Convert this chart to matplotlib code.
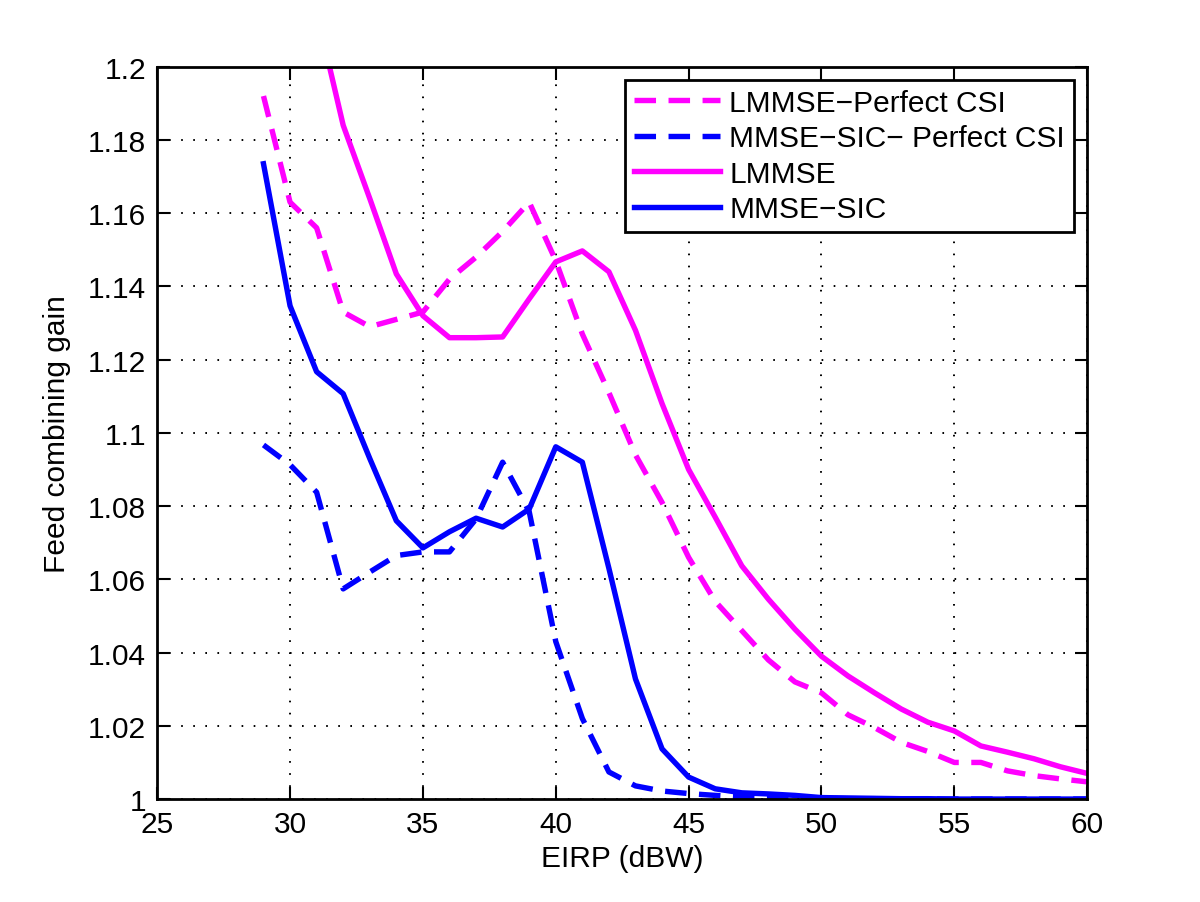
import matplotlib
matplotlib.use("Agg")
import matplotlib.pyplot as plt
from matplotlib.ticker import FuncFormatter

plt.rcParams['font.family'] = ['Liberation Sans', 'DejaVu Sans']
plt.rcParams['lines.scale_dashes'] = False

eirp = list(range(29, 61))

lmmse_perfect = [1.192, 1.163, 1.156, 1.133, 1.129, 1.131, 1.133, 1.142, 1.148, 1.155,
                 1.163, 1.147, 1.127, 1.111, 1.094, 1.081, 1.066, 1.054, 1.046, 1.038,
                 1.032, 1.029, 1.023, 1.0195, 1.0155, 1.013, 1.010, 1.010, 1.0077, 1.0064,
                 1.0055, 1.0047]

sic_perfect = [1.0967, 1.0913, 1.0838, 1.0574, 1.062, 1.0665, 1.0675, 1.0675, 1.0765, 1.092,
               1.0785, 1.043, 1.022, 1.0074, 1.0036, 1.0022, 1.0015, 1.001, 1.0006, 1.0004,
               1.0002, 1.0002, 1.0001, 1.0001, 1.0, 1.0, 1.0, 1.0, 1.0, 1.0, 1.0, 1.0]

lmmse_x = list(range(31, 61))
lmmse = [1.215, 1.184, 1.164, 1.1434, 1.132, 1.126, 1.126, 1.1262, 1.1366, 1.1467,
         1.1497, 1.144, 1.128, 1.108, 1.090, 1.077, 1.0637, 1.0546, 1.0464, 1.039,
         1.0336, 1.029, 1.0246, 1.021, 1.0186, 1.0145, 1.0128, 1.011, 1.0088, 1.007]

sic = [1.1735, 1.1347, 1.1167, 1.1107, 1.093, 1.076, 1.0686, 1.073, 1.0767, 1.0743,
       1.0792, 1.0962, 1.092, 1.063, 1.0328, 1.0137, 1.006, 1.0028, 1.0017, 1.0014,
       1.001, 1.0004, 1.0003, 1.0002, 1.0001, 1.0001, 1.0, 1.0, 1.0, 1.0, 1.0, 1.0]

labels = ['LMMSE\u2212Perfect CSI', 'MMSE\u2212SIC\u2212 Perfect CSI', 'LMMSE', 'MMSE\u2212SIC']
xticks = [25, 30, 35, 40, 45, 50, 55, 60]
yticks = [1.0, 1.02, 1.04, 1.06, 1.08, 1.1, 1.12, 1.14, 1.16, 1.18, 1.2]

fig = plt.figure(figsize=(12, 9.03), dpi=100)
ax = fig.add_axes([0.131, 0.114, 0.775, 0.811])

lw = 3.9
dash = (0, (15.5, 9))
ax.plot(eirp, lmmse_perfect, color='#FF00FF', lw=lw, linestyle=dash, label=labels[0])
ax.plot(eirp, sic_perfect, color='#0000FF', lw=lw, linestyle=dash, label=labels[1])
ax.plot(lmmse_x, lmmse, color='#FF00FF', lw=lw, label=labels[2])
ax.plot(eirp, sic, color='#0000FF', lw=lw, label=labels[3])

ax.set_xlim(25, 60)
ax.set_ylim(1.0, 1.2)
ax.set_xticks(xticks)
ax.set_yticks(yticks)
ax.yaxis.set_major_formatter(FuncFormatter(lambda v, p: '%g' % round(v, 2)))
ax.tick_params(direction='in', length=9, width=1.5, labelsize=21.5, top=True, right=True, pad=8)
ax.grid(True, color='black', linestyle=(0, (1.2, 7.5)), linewidth=1.4)
for s in ax.spines.values():
    s.set_linewidth(2)
    s.set_color('black')

ax.set_xlabel('EIRP (dBW)', fontsize=21.5, labelpad=4)
ax.set_ylabel('Feed combining gain', fontsize=21.5, labelpad=12)

leg = ax.legend(loc='upper right', bbox_to_anchor=(0.9855, 0.982), fontsize=21.5,
                frameon=True, fancybox=False, edgecolor='black', framealpha=1,
                handlelength=2.9, handletextpad=0.3, borderpad=0.3, labelspacing=0.25,
                borderaxespad=0)
leg.get_frame().set_linewidth(2)

fig.savefig('out.png', dpi=100, facecolor='white')
